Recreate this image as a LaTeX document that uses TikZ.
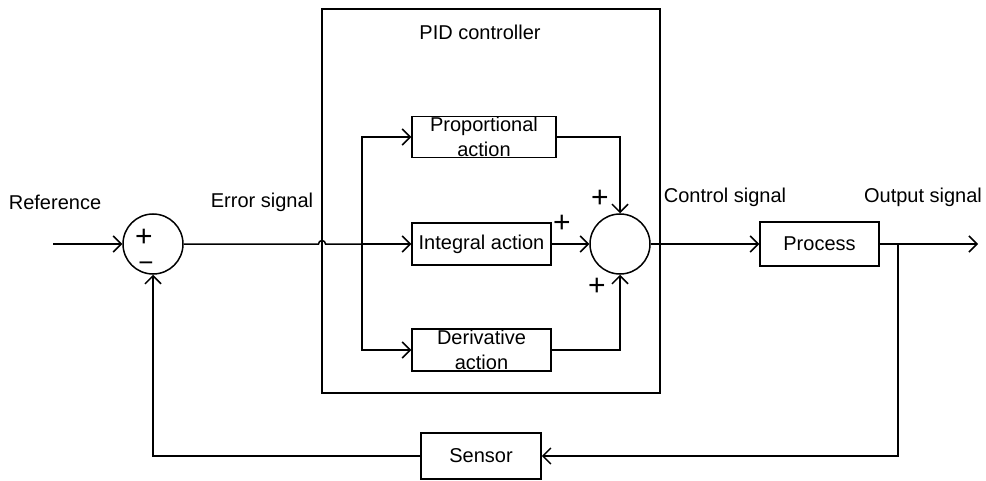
\documentclass[tikz,border=0pt]{standalone}
\usepackage{fontspec}
\setmainfont{Liberation Sans}
\usetikzlibrary{arrows.meta}

\begin{document}
\begin{tikzpicture}[
		x=0.5pt, y=-0.5pt,
		blk/.style={draw, line width=0.75pt, inner sep=0pt, minimum width=69.5pt, minimum height=21pt, font=\fontsize{10}{12.5}\selectfont, align=center},
		txt/.style={inner sep=0pt, font=\fontsize{10}{12.5}\selectfont, align=center},
		junction/.style={draw, circle, line width=0.75pt, minimum size=30pt, inner sep=0pt},
		sgn/.style={inner sep=0pt, font=\fontsize{15}{15}\selectfont},
		wire/.style={line width=0.75pt},
		arrow/.style={-{Straight Barb[length=4pt, width=8pt]}, line width=0.75pt}
	]
	\useasboundingbox (0,0) rectangle (986,481);

	\node[draw, line width=0.75pt, minimum width=169pt, minimum height=192pt] (pid) at (491,201) {};
	\node[txt] (pidlbl) at (480,32) {PID controller};

	\node[junction] (sum1) at (153,244) {};
	\node[sgn] (sum1plus) at (144,238) {+};
	\node[sgn, font=\fontsize{13}{13}\selectfont] (sum1minus) at (146,267) {−};

	\node[blk, minimum width=72pt, minimum height=20.5pt] (prop) at (484,137) {};
	\node[txt] (proptxt) at (prop) {Proportional\\action};
	\node[blk] (integ) at (481.5,244) {Integral action};
	\node[blk] (deriv) at (481.5,350) {};
	\node[txt] (derivtxt) at (deriv) {Derivative\\action};

	\node[junction] (sum2) at (620,244) {};
	\node[sgn] (plusp) at (600,199) {+};
	\node[sgn] (plusi) at (562,224) {+};
	\node[sgn] (plusd) at (597,287) {+};

	\node[blk, minimum width=59.5pt, minimum height=22pt] (proc) at (819.5,244) {Process};
	\node[blk, minimum width=60pt, minimum height=23pt] (sensor) at (481,456) {Sensor};

	\node[txt] (reflbl) at (55,202) {Reference};
	\node[txt] (errlbl) at (262,202) {Error signal};
	\node[txt] (ctrllbl) at (725,197) {Control signal};
	\node[txt] (outlbl) at (923,197) {Output signal};

	\coordinate (ref) at (53,244);
	\coordinate (hop) at (322,244);
	\coordinate (split) at (362,244);
	\coordinate (tap) at (898,244);
	\coordinate (out) at (978,244);

	\draw[arrow] (ref) -- (sum1);
	\draw[wire] (sum1) -- ([xshift=-1.75pt]hop) arc[start angle=180, end angle=0, radius=1.75pt] -- (split);
	\draw[arrow] (split) -- (integ);
	\draw[arrow] (split) |- (prop);
	\draw[arrow] (split) |- (deriv);

	\draw[arrow] (prop.east) -| (sum2.north);
	\draw[arrow] (integ) -- (sum2);
	\draw[arrow] (deriv.east) -| (sum2.south);

	\draw[arrow] (sum2) -- (proc);
	\draw[arrow] (proc) -- (out);
	\draw[arrow] (tap) |- (sensor);
	\draw[arrow] (sensor) -| (sum1);
\end{tikzpicture}
\end{document}
